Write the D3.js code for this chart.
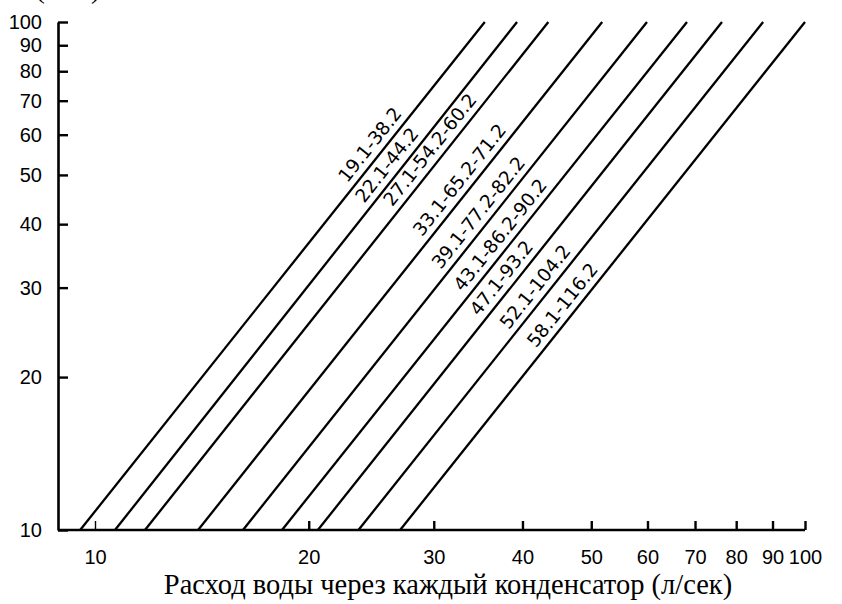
<!DOCTYPE html>
<html>
<head>
<meta charset="utf-8">
<script src="https://cdn.jsdelivr.net/npm/d3@7"></script>
<style>
  body { margin: 0; background: #fff; }
  svg { display: block; }
</style>
</head>
<body>
<svg width="842" height="604"></svg>
<script>
/* Condenser pressure drop vs water flow, log-log, one straight line per model range */

const tickValues = [10, 20, 30, 40, 50, 60, 70, 80, 90, 100];
const pressureEnds = [10, 100]; // kPa at bottom and top of every line

const curveLabels = [
    '19.1-38.2', '22.1-44.2', '27.1-54.2-60.2', '33.1-65.2-71.2',
    '39.1-77.2-82.2', '43.1-86.2-90.2', '47.1-93.2', '52.1-104.2', '58.1-116.2'
];
// flow (l/s) where each line meets 10 kPa and 100 kPa
const flowAtLow = [9.53, 10.67, 11.76, 13.97, 16.16, 18.34, 20.6, 23.5, 26.9];
const flowAtHigh = [35.4, 39.3, 43.5, 51.8, 59.9, 68.2, 76.4, 87.3, 100];
// pressure (kPa) along each line where its label sits
const labelPressure = [55.2, 50.4, 54.0, 47.1, 40.6, 36.7, 30.2, 29.0, 26.7];

const svg = d3.select('svg');
const axisX = 58; // left edge of the frame

const xScale = d3.scaleLog()
    .domain([10, 100])
    .range([95, 805]);

const yScale = d3.scaleLog()
    .domain([10, 100])
    .range([530, 22]);

const fmt = d3.format('d');

/* y axis, ticks pointing into the plot */
const yAxis = svg.append('g')
    .attr('transform', `translate(${axisX},0)`)
    .call(d3.axisLeft(yScale)
        .tickValues(tickValues)
        .tickFormat(fmt)
        .tickSizeInner(-10)
        .tickSizeOuter(0)
        .tickPadding(16));

/* x axis, ticks pointing up */
const xAxis = svg.append('g')
    .attr('transform', `translate(0,${yScale(10)})`)
    .call(d3.axisBottom(xScale)
        .tickValues(tickValues)
        .tickFormat(fmt)
        .tickSizeInner(-9)
        .tickSizeOuter(0)
        .tickPadding(20));

xAxis.select('.domain').remove();
xAxis.append('line')
    .attr('x1', axisX)
    .attr('x2', xScale(100))
    .attr('stroke', '#000')
    .attr('stroke-width', 2.6);

[xAxis, yAxis].forEach(g => {
    g.selectAll('.domain').attr('stroke', '#000').attr('stroke-width', 2.6);
    g.selectAll('.tick line').attr('stroke', '#000').attr('stroke-width', 2.4);
    g.selectAll('.tick text')
        .attr('fill', '#000')
        .style('font-family', '"Liberation Sans", Arial, sans-serif')
        .style('font-size', '20px');
});
xAxis.selectAll('.tick').filter(d => d === 10).select('line')
    .attr('stroke-width', 1.4);

/* the lines */
const curves = curveLabels.map((name, i) => ({
    name,
    points: [
        {p: pressureEnds[0], f: flowAtLow[i]},
        {p: pressureEnds[1], f: flowAtHigh[i]}
    ],
    labelP: labelPressure[i]
}));

const line = d3.line()
    .x(d => xScale(d.f))
    .y(d => yScale(d.p));

svg.append('g')
    .selectAll('path')
    .data(curves)
    .enter()
    .append('path')
    .attr('d', d => line(d.points))
    .attr('fill', 'none')
    .attr('stroke', '#000')
    .attr('stroke-width', 2.3);

/* labels lying along the lines, on their upper-left side */
svg.append('g')
    .selectAll('text')
    .data(curves)
    .enter()
    .append('text')
    .attr('transform', d => {
        const [a, b] = d.points;
        const t = Math.log(d.labelP / a.p) / Math.log(b.p / a.p);
        const f = a.f * Math.pow(b.f / a.f, t);
        const angle = Math.atan2(yScale(b.p) - yScale(a.p), xScale(b.f) - xScale(a.f)) * 180 / Math.PI;
        return `translate(${xScale(f)},${yScale(d.labelP)}) rotate(${angle})`;
    })
    .attr('y', -7)
    .attr('text-anchor', 'middle')
    .style('font-family', '"DejaVu Sans", sans-serif')
    .style('font-size', '18.5px')
    .attr('fill', '#000')
    .text(d => d.name);

/* axis titles */
svg.append('text')
    .attr('x', 448)
    .attr('y', 594)
    .attr('text-anchor', 'middle')
    .style('font-family', '"Liberation Serif", "Times New Roman", serif')
    .style('font-size', '28.5px')
    .text('Расход воды через каждый конденсатор (л/сек)');

svg.append('text')
    .attr('x', 68)
    .attr('y', -2)
    .attr('text-anchor', 'middle')
    .style('font-family', '"Liberation Serif", "Times New Roman", serif')
    .style('font-size', '28px')
    .text('(кПа)');
</script>
</body>
</html>
